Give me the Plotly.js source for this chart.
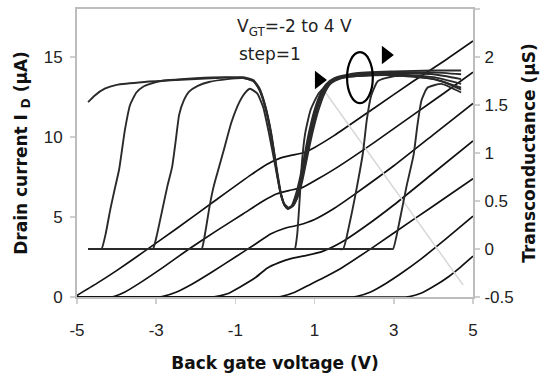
<!DOCTYPE html>
<html>
<head>
<meta charset="utf-8">
<script src="https://cdn.plot.ly/plotly-3.0.1.min.js"></script>
<style>html,body{margin:0;padding:0;background:#fff;}#chart{width:545px;height:380px;}</style>
</head>
<body>
<div id="chart"></div>
<script>
// Top-gate voltages (one curve pair per value)
var vgt = [4, 3, 2, 1, 0, -1, -2];

// Drain current I_D (µA) vs back gate voltage (V)
var idA_x = [-5,-4.5,-4,-3.3,-2.5,-1.5,-0.6,-0.2,0.1,0.4,0.7,1.0,1.5,2.5,3.5,4.3,5];
var idA_y = [0.1,0.85,1.65,2.85,4.25,6.05,7.65,8.3,8.65,8.85,9.0,9.35,10.1,11.8,13.5,14.8,16.0];
var idB_x = [-5,-4.4,-4.15,-4.05,-3.8,-3.4,-2.8,-2.2,-1.5,-0.8,-0.3,0.05,0.35,0.7,1.1,1.6,2.5,3.5,4.3,5];
var idB_y = [0,0,0,0.05,0.3,0.9,1.9,2.95,4.1,5.2,6.0,6.45,6.65,6.85,7.4,8.15,9.65,11.4,12.8,14.05];
var idC_x = [-5,-3.2,-2.95,-2.85,-2.5,-2.1,-1.6,-1.0,-0.5,-0.1,0.25,0.6,1.0,1.5,2.0,3.0,4.0,5];
var idC_y = [0,0,0,0.03,0.3,0.8,1.55,2.5,3.3,3.95,4.3,4.5,4.85,5.55,6.4,8.2,10.15,12.1];
var idD_x = [-5,-1.9,-1.6,-1.5,-1.2,-0.9,-0.5,-0.2,0.1,0.4,0.8,1.2,1.7,2.3,3,4,5];
var idD_y = [0,0,0,0.03,0.2,0.6,1.2,1.8,2.15,2.4,2.6,2.85,3.45,4.45,5.75,7.75,9.75];
var idE_x = [-5,-0.3,0.05,0.15,0.5,0.9,1.3,1.7,2.5,3.5,4.3,5];
var idE_y = [0,0,0,0.03,0.3,0.8,1.3,1.85,3.15,4.85,6.2,7.4];
var idF_x = [-5,1.6,1.95,2.05,2.4,2.8,3.2,3.7,4.3,5];
var idF_y = [0,0,0,0.03,0.3,0.85,1.5,2.4,3.6,5.05];
var idG_x = [-5,2.9,3.3,3.4,3.7,4.0,4.4,4.7,5];
var idG_y = [0,0,0,0.03,0.25,0.65,1.3,1.9,2.55];

// Transconductance (µS) vs back gate voltage (V)
var gmA_x = [-4.72,-4.55,-4.3,-4.0,-3.3,-2.5,-1.5,-0.8,-0.55,-0.4,-0.25,-0.1,0.05,0.15,0.25,0.32,0.42,0.52,0.62,0.72,0.85,1.0,1.15,1.3,1.5,2.0,3.0,4.0,4.7];
var gmA_y = [1.53,1.6,1.67,1.71,1.74,1.76,1.78,1.79,1.76,1.68,1.5,1.22,0.82,0.58,0.45,0.42,0.45,0.56,0.72,0.92,1.2,1.45,1.62,1.72,1.78,1.83,1.85,1.86,1.86];
var gmB_x = [-4.72,-4.6,-4.46,-4.38,-4.28,-4.16,-4.05,-3.94,-3.79,-3.66,-3.5,-3.33,-3.0,-2.65,-2.0,-1.2,-0.8,-0.55,-0.4,-0.25,-0.1,0.05,0.15,0.25,0.33,0.44,0.55,0.65,0.75,0.88,1.03,1.18,1.33,1.55,2.0,3.0,4.0,4.7];
var gmB_y = [0,0,0,0,0.15,0.41,0.62,0.82,1.24,1.5,1.63,1.69,1.74,1.76,1.78,1.79,1.78,1.75,1.67,1.49,1.2,0.8,0.57,0.45,0.42,0.45,0.56,0.72,0.92,1.2,1.45,1.62,1.72,1.78,1.82,1.84,1.84,1.82];
var gmC_x = [-4.72,-3.6,-3.3,-3.16,-3.08,-2.98,-2.85,-2.72,-2.6,-2.5,-2.42,-2.3,-2.17,-1.95,-1.67,-1.2,-0.8,-0.55,-0.4,-0.25,-0.1,0.05,0.15,0.25,0.34,0.46,0.58,0.68,0.78,0.91,1.06,1.21,1.36,1.6,2.0,3.0,4.0,4.7];
var gmC_y = [0,0,0,0,0,0.15,0.4,0.65,0.85,1.15,1.4,1.55,1.64,1.7,1.74,1.77,1.78,1.75,1.66,1.48,1.19,0.79,0.56,0.45,0.42,0.45,0.56,0.72,0.92,1.2,1.45,1.62,1.72,1.78,1.81,1.83,1.82,1.77];
var gmD_x = [-4.72,-2.4,-2.1,-1.93,-1.85,-1.75,-1.65,-1.55,-1.45,-1.3,-1.1,-0.9,-0.75,-0.63,-0.45,-0.3,-0.15,0.0,0.12,0.22,0.34,0.47,0.6,0.7,0.8,0.94,1.1,1.25,1.4,1.65,2.0,3.0,4.0,4.7];
var gmD_y = [0,0,0,0,0,0.2,0.45,0.65,0.8,1.02,1.32,1.53,1.63,1.67,1.62,1.48,1.2,0.88,0.62,0.48,0.43,0.46,0.57,0.73,0.93,1.2,1.45,1.62,1.72,1.78,1.8,1.82,1.79,1.72];
var gmE_x = [-4.72,-0.2,0.2,0.42,0.5,0.56,0.62,0.68,0.76,0.9,1.1,1.4,1.8,2.5,3.0,4.0,4.7];
var gmE_y = [0,0,0,0,0,0.15,0.5,0.9,1.2,1.45,1.62,1.74,1.79,1.81,1.81,1.77,1.68];
var gmF_x = [-4.72,0.6,1.3,1.6,1.72,1.9,2.07,2.22,2.32,2.43,2.6,3.0,3.6,4.2,4.7];
var gmF_y = [0,0,0,0,0,0.3,0.65,1.0,1.35,1.6,1.75,1.8,1.8,1.75,1.66];
var gmG_x = [-4.72,1.0,2.2,2.75,2.9,2.98,3.15,3.32,3.5,3.6,3.7,3.85,4.2,4.7];
var gmG_y = [0,0,0,0,0,0,0.3,0.65,0.98,1.3,1.55,1.68,1.72,1.63];

// Faint grey guide line (transconductance units)
var guide_x = [1.19, 4.75];
var guide_y = [1.68, -0.375];

// Arrowhead markers
var tri_x = [1.11, 2.80];
var tri_y = [1.76, 2.02];

// Axis ticks
var xTickVals = [-5,-3,-1,1,3,5];
var xTickText = ['-5','-3','-1','1','3','5'];
var yTickVals = [0,5,10,15];
var yTickText = ['0','5','10','15'];
var y2TickVals = [-0.5,0,0.5,1,1.5,2,2.5];
var y2TickText = ['-0.5','0','0.5','1','1.5','2','2.5'];

var idSeries = [[idA_x,idA_y],[idB_x,idB_y],[idC_x,idC_y],[idD_x,idD_y],[idE_x,idE_y],[idF_x,idF_y],[idG_x,idG_y]];
var gmSeries = [[gmA_x,gmA_y],[gmB_x,gmB_y],[gmC_x,gmC_y],[gmD_x,gmD_y],[gmE_x,gmE_y],[gmF_x,gmF_y],[gmG_x,gmG_y]];

var traces = [];
traces.push({x: guide_x, y: guide_y, yaxis: 'y2', mode: 'lines', line: {color: '#d8d8d8', width: 1.5}, hoverinfo: 'skip'});
idSeries.forEach(function (s, i) {
  traces.push({x: s[0], y: s[1], mode: 'lines', name: 'ID VGT=' + vgt[i],
    line: {color: '#111', width: 1.7, shape: 'spline', smoothing: 0.5}});
});
gmSeries.forEach(function (s, i) {
  traces.push({x: s[0], y: s[1], yaxis: 'y2', mode: 'lines', name: 'gm VGT=' + vgt[i],
    line: {color: '#2a2a2a', width: 1.9, shape: 'spline', smoothing: 0.5}});
});
traces.push({x: tri_x, y: tri_y, yaxis: 'y2', mode: 'markers',
  marker: {symbol: 'triangle-right', size: 16, color: '#000'}, hoverinfo: 'skip'});

var tickFont = {family: 'Liberation Sans, Arial, sans-serif', size: 17, color: '#222'};
var titleFont = {family: 'DejaVu Sans, sans-serif', size: 17, color: '#111', weight: 'bold'};
var axisCommon = {
  showline: true, linecolor: '#bdbdbd', linewidth: 2,
  ticks: 'outside', ticklen: 5, tickwidth: 1.5, tickcolor: '#cfcfcf',
  showgrid: false, zeroline: false, tickfont: tickFont, layer: 'below traces'
};

var layout = {
  width: 545, height: 380,
  margin: {l: 77, r: 72, t: 9, b: 83},
  paper_bgcolor: '#fff', plot_bgcolor: '#fff',
  showlegend: false,
  xaxis: Object.assign({}, axisCommon, {
    range: [-5, 5], tickmode: 'array', tickvals: xTickVals, ticktext: xTickText,
    mirror: true, ticklabelstandoff: 12,
    title: {text: 'Back gate voltage (V)', font: titleFont, standoff: 18}
  }),
  yaxis: Object.assign({}, axisCommon, {
    range: [0, 18], tickmode: 'array', tickvals: yTickVals, ticktext: yTickText,
    ticklabelstandoff: 4,
    title: {text: 'Drain current I <sub>D</sub> (µA)', font: titleFont, standoff: 12}
  }),
  yaxis2: Object.assign({}, axisCommon, {
    overlaying: 'y', side: 'right',
    range: [-0.5, 2.5], tickmode: 'array', tickvals: y2TickVals, ticktext: y2TickText,
    ticklabelstandoff: 1,
    title: {text: 'Transconductance (µS)', font: titleFont, standoff: 10}
  }),
  shapes: [{
    type: 'circle', xref: 'x', yref: 'y2',
    x0: 1.82, x1: 2.47, y0: 1.52, y1: 2.05,
    line: {color: '#000', width: 2.2}
  }],
  annotations: [
    {xref: 'x', yref: 'y2', x: -1.01, y: 2.31, xanchor: 'left', yanchor: 'middle', showarrow: false,
     text: 'V<sub>GT</sub>=-2 to 4 V', font: {family: 'DejaVu Sans, sans-serif', size: 17, color: '#222'}},
    {xref: 'x', yref: 'y2', x: -0.96, y: 2.03, xanchor: 'left', yanchor: 'middle', showarrow: false,
     text: 'step=1', font: {family: 'DejaVu Sans, sans-serif', size: 17, color: '#222'}}
  ]
};

Plotly.newPlot('chart', traces, layout, {staticPlot: true, displayModeBar: false});
</script>
</body>
</html>
